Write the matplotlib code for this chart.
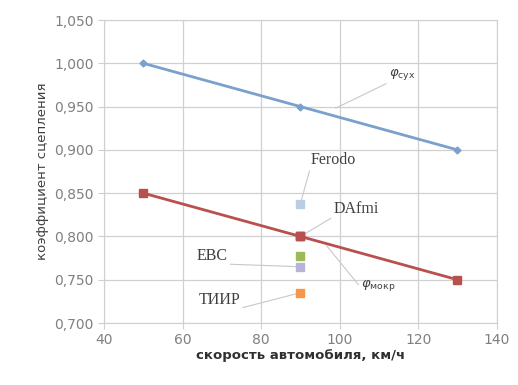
import numpy as np
import matplotlib.pyplot as plt
from matplotlib.ticker import FuncFormatter

# speeds and friction coefficients
speed = [50, 90, 130]
phi_dry = [1.000, 0.950, 0.900]
phi_wet = [0.850, 0.800, 0.750]

# brake pad samples measured at 90 km/h
pads = ['Ferodo', 'DAfmi', 'EBC', 'ТИИР']
pad_speed = [90, 90, 90, 90]
pad_values = [0.838, 0.800, 0.777, 0.735]
pad_extra = 0.765
pad_colors = ['#b9cde5', '#c0504d', '#9bbb59', '#f79646']

fig = plt.figure(figsize=(5.18, 3.85), dpi=100)
ax = fig.add_axes([0.201, 0.161, 0.758, 0.787])

ax.plot(speed, phi_dry, color='#7aa0cc', lw=2.0, marker='D', ms=3.5, zorder=3)
ax.plot(speed, phi_wet, color='#b9504e', lw=2.0, marker='s', ms=6, zorder=3)

for x, y, c in zip(pad_speed, pad_values, pad_colors):
    ax.plot([x], [y], marker='s', ms=6, color=c, ls='none', zorder=4)
ax.plot([90], [pad_extra], marker='s', ms=6, color='#b8b4d8', ls='none', zorder=4)
ax.plot([90], [pad_values[1]], marker='s', ms=6, color='#b9504e', ls='none', zorder=5)

lead = dict(arrowstyle='-', color='#c8c8c8', lw=0.8, shrinkA=0, shrinkB=3)
tfont = dict(family='Liberation Serif', fontsize=11.5, color='#404040')

ax.annotate('Ferodo', xy=(90, 0.838), xytext=(92.5, 0.879), ha='left', va='bottom',
            arrowprops=dict(lead, relpos=(0, 0)), **tfont)
ax.annotate('DAfmi', xy=(90, 0.800), xytext=(98.5, 0.823), ha='left', va='bottom',
            arrowprops=dict(lead, relpos=(0, 0)), **tfont)
ax.annotate('EBC', xy=(90, 0.765), xytext=(63.5, 0.768), ha='left', va='bottom',
            arrowprops=dict(lead, relpos=(1, 0)), **tfont)
ax.annotate('ТИИР', xy=(90, 0.735), xytext=(64.0, 0.717), ha='left', va='bottom',
            arrowprops=dict(lead, relpos=(1, 0)), **tfont)
ax.annotate(r'$\varphi_{\mathrm{сух}}$', xy=(98, 0.946), xytext=(112.5, 0.978),
            ha='left', va='bottom', arrowprops=dict(lead, relpos=(0, 0)),
            fontsize=9.5, color='#404040')
ax.annotate(r'$\varphi_{\mathrm{мокр}}$', xy=(96, 0.793), xytext=(105.5, 0.735),
            ha='left', va='bottom', arrowprops=dict(lead, relpos=(0, 0.3)),
            fontsize=9.5, color='#404040')

ax.set_xlim(40, 140)
ax.set_ylim(0.700, 1.050)
ax.set_xticks(np.arange(40, 141, 20))
ax.set_yticks(np.arange(0.700, 1.051, 0.050))
ax.yaxis.set_major_formatter(FuncFormatter(lambda v, p: f'{v:.3f}'.replace('.', ',')))
ax.grid(True, color='#d0d0d0', lw=0.9)
ax.set_axisbelow(True)
for s in ax.spines.values():
    s.set_color('#d0d0d0')
ax.tick_params(colors='#d0d0d0', labelcolor='#808080', labelsize=10, length=4)

ax.set_xlabel('скорость автомобиля, км/ч', fontsize=9.5, color='#303030',
              fontweight='bold', labelpad=1)
ax.set_ylabel('коэффициент сцепления', fontsize=9.5, color='#404040', labelpad=4)

plt.savefig('out.png', dpi=100)
